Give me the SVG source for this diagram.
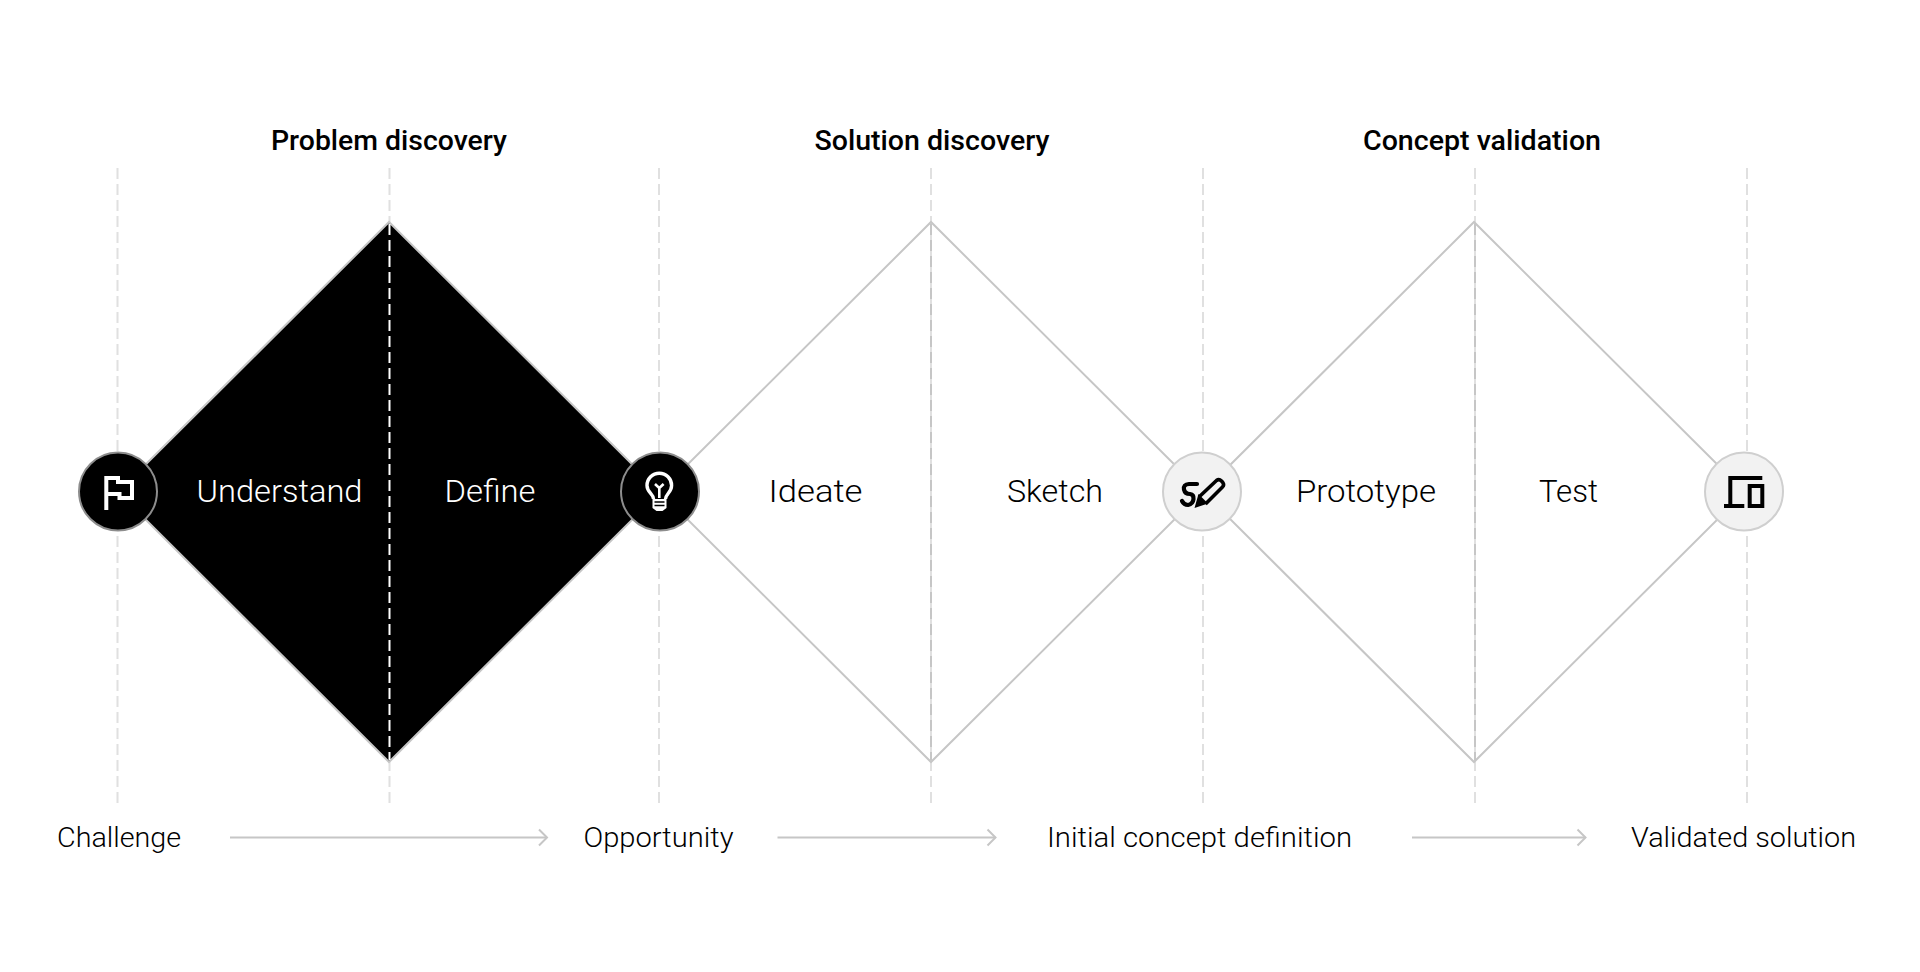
<svg xmlns="http://www.w3.org/2000/svg" width="1920" height="972" viewBox="0 0 1920 972">
<style>
text{font-family:"Roboto","Liberation Sans",sans-serif;fill:#000}
.h{font-size:27px;font-weight:500}
.l{font-size:32px;font-weight:300}
.b{font-size:27px;font-weight:300}
.w{fill:#fff}
.g{stroke:#e0e0e0;stroke-width:2;stroke-dasharray:11 5;fill:none}
.d{fill:none;stroke:#c6c6c6;stroke-width:2}
.a{fill:none;stroke:#c6c6c6;stroke-width:2}
.c{fill:#f2f2f2;stroke:#cfcfcf;stroke-width:2}
.k{fill:#000;stroke:#8d8d8d;stroke-width:2}
.iw{fill:none;stroke:#fff;stroke-width:4}
.ib{fill:none;stroke:#000;stroke-width:4}
</style>
<defs>
<marker id="ah" markerUnits="userSpaceOnUse" markerWidth="12" markerHeight="20" refX="10" refY="10" orient="auto"><path d="M2 2L10 10L2 18" fill="none" stroke="#c6c6c6" stroke-width="2"/></marker>
</defs>
<rect width="1920" height="972" fill="#fff"/>
<g id="guides">
<path class="g" d="M117.500 168V803M389.500 168V803M659 168V803M931 168V803M1203 168V803M1475 168V803M1747 168V803"/>
</g>
<g id="diamond-problem">
<path d="M118 492L389 222L660 492L389 762Z" fill="#000" stroke="#c6c6c6" stroke-width="2"/>
<path d="M389.500 224V760" stroke="#fff" stroke-width="2" stroke-dasharray="11 5" fill="none"/>
<text class="l w" x="196.500" y="502" textLength="166" lengthAdjust="spacingAndGlyphs">Understand</text>
<text class="l w" x="444.500" y="502" textLength="91" lengthAdjust="spacingAndGlyphs">Define</text>
</g>
<g id="diamond-solution">
<path class="d" d="M660 492L931 222L1202 492L931 762Z"/>
<path d="M931 224V760" stroke="#c6c6c6" stroke-width="2" stroke-dasharray="11 5" fill="none"/>
<text class="l" x="768.500" y="502" textLength="94" lengthAdjust="spacingAndGlyphs">Ideate</text>
<text class="l" x="1007" y="502" textLength="96" lengthAdjust="spacingAndGlyphs">Sketch</text>
</g>
<g id="diamond-concept">
<path class="d" d="M1203 492L1474 222L1745 492L1474 762Z"/>
<path d="M1475 224V760" stroke="#c6c6c6" stroke-width="2" stroke-dasharray="11 5" fill="none"/>
<text class="l" x="1296" y="502" textLength="140" lengthAdjust="spacingAndGlyphs">Prototype</text>
<text class="l" x="1539" y="502" textLength="59" lengthAdjust="spacingAndGlyphs">Test</text>
</g>
<g id="heading-problem"><text class="h" x="271" y="150" textLength="236" lengthAdjust="spacingAndGlyphs">Problem discovery</text></g>
<g id="heading-solution"><text class="h" x="814.500" y="150" textLength="235" lengthAdjust="spacingAndGlyphs">Solution discovery</text></g>
<g id="heading-concept"><text class="h" x="1363" y="150" textLength="238" lengthAdjust="spacingAndGlyphs">Concept validation</text></g>
<g id="node-flag">
<circle class="k" cx="118" cy="491.500" r="39"/>
<path class="iw" d="M106.300 510V478H118V482H132V498H119.500V494H106.300"/>
</g>
<g id="node-bulb">
<circle class="k" cx="660" cy="491.500" r="39"/>
<path fill="none" stroke="#fff" stroke-width="3.400" d="M653.500 499C653.500 494 647 492.500 647 485.500A12.300 12.300 0 1 1 671.600 485.500C671.600 492.500 665.500 494 665.500 499"/>
<path fill="none" stroke="#fff" stroke-width="2.600" d="M659.300 498V488L655 484M659.300 488L663.600 484"/>
<path fill="#fff" d="M652.500 499H666.500V508L662.500 511H656.500L652.500 508Z"/>
<path stroke="#000" stroke-width="1.600" d="M654.500 502H664.500M654.500 505.500H664.500"/>
</g>
<g id="node-pen">
<circle class="c" cx="1202" cy="491.500" r="39"/>
<path fill="none" stroke="#000" stroke-width="3.600" stroke-linejoin="round" d="M1199 497L1216.500 480.500Q1219 478.500 1221.500 481L1222.800 482.500Q1224.500 485 1222.500 487L1205.500 504"/>
<path fill="#000" d="M1194.500 508L1198.500 494L1208 503.500Z"/>
<path fill="none" stroke="#000" stroke-width="4.200" stroke-linecap="round" d="M1197 484H1189Q1183 484.500 1184 489.500Q1185 494 1190 494Q1194 494.500 1193.500 499Q1193 504 1188 505Q1184 505 1182 501"/>
</g>
<g id="node-devices">
<circle class="c" cx="1744" cy="491.500" r="39"/>
<path class="ib" d="M1762.300 478H1730.300V506M1724 506H1744.300"/>
<rect class="ib" x="1749.700" y="486" width="12.600" height="20"/>
</g>
<g id="connectors">
<path class="a" marker-end="url(#ah)" d="M230 837.500H547"/>
<path class="a" marker-end="url(#ah)" d="M777.500 837.500H995.500"/>
<path class="a" marker-end="url(#ah)" d="M1412 837.500H1585.500"/>
</g>
<g id="label-challenge"><text class="b" x="57" y="847" textLength="124" lengthAdjust="spacingAndGlyphs">Challenge</text></g>
<g id="label-opportunity"><text class="b" x="583.500" y="847" textLength="150" lengthAdjust="spacingAndGlyphs">Opportunity</text></g>
<g id="label-initial"><text class="b" x="1047" y="847" textLength="305" lengthAdjust="spacingAndGlyphs">Initial concept definition</text></g>
<g id="label-validated"><text class="b" x="1631" y="847" textLength="225" lengthAdjust="spacingAndGlyphs">Validated solution</text></g>
</svg>
